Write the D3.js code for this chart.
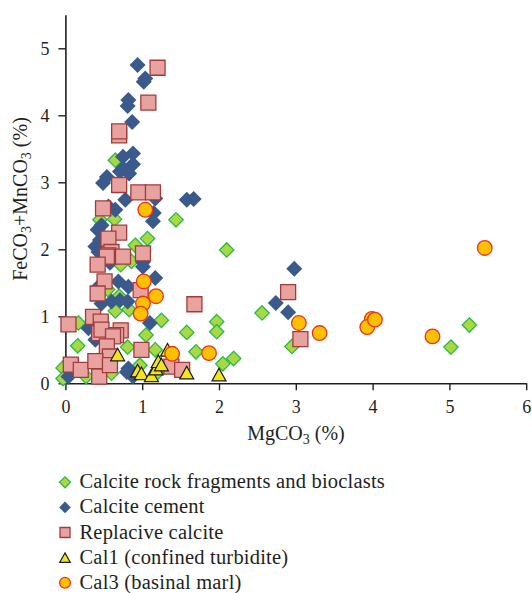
<!DOCTYPE html>
<html>
<head>
<meta charset="utf-8">
<script src="https://cdn.jsdelivr.net/npm/d3@7"></script>
<style>
  html, body { margin: 0; padding: 0; background: #fff; }
  svg { display: block; }
  svg text { font-family: "Liberation Serif", "DejaVu Serif", serif; }
</style>
</head>
<body>
<svg id="chart" width="532" height="593"></svg>
<script>
// MgCO3 vs FeCO3+MnCO3 (%) for calcite types, [MgCO3, FeCO3+MnCO3]
const rockFragments = [
  [0.65,3.33],[0.45,2.44],[0.64,2.45],[1.44,2.44],[1.07,2.16],[0.91,2.06],[0.86,1.82],
  [0.72,1.77],[2.10,1.99],[0.65,1.08],[0.83,1.10],[1.25,0.94],[0.17,0.90],[1.05,0.72],
  [1.58,0.76],[1.97,0.92],[1.97,0.77],[0.16,0.56],[1.17,0.50],[0.81,0.54],[1.70,0.47],
  [2.05,0.29],[2.19,0.37],[-0.03,0.23],[-0.03,0.07],[0.27,0.10],[0.60,0.15],[0.97,0.27],
  [1.19,0.15],[2.56,1.05],[2.95,0.55],[5.02,0.54],[5.26,0.87],[0.55,1.40],[0.70,1.30]
];
const cement = [
  [0.94,4.75],[1.04,4.55],[1.02,4.50],[0.82,4.23],[0.81,4.14],[0.87,3.90],[0.88,3.43],
  [0.75,3.38],[0.88,3.27],[0.75,3.21],[0.83,3.13],[0.71,3.16],[0.54,3.08],[0.49,2.99],
  [0.78,2.74],[0.65,2.59],[0.56,2.64],[1.17,2.76],[1.15,2.54],[1.14,2.42],[0.47,2.36],
  [0.42,2.29],[0.45,2.14],[0.39,2.04],[0.43,1.96],[1.01,1.81],[1.01,1.74],[0.69,1.52],
  [0.82,1.44],[1.17,1.57],[0.43,1.44],[0.47,1.19],[0.60,1.22],[0.71,1.24],[0.81,1.22],
  [1.10,0.90],[0.30,0.82],[0.39,0.65],[0.82,0.22],[0.80,0.17],[0.88,0.10],[0.04,0.10],
  [1.58,2.74],[1.67,2.75],[2.98,1.71],[2.74,1.20],[2.90,1.06],[0.58,1.80],[0.60,2.00]
];
const replacive = [
  [1.20,4.71],[1.08,4.19],[0.70,3.70],[0.70,3.76],[0.70,2.96],[0.95,2.85],[1.14,2.85],
  [0.49,2.61],[0.70,2.25],[0.56,2.16],[0.60,1.96],[0.56,1.91],[0.75,1.89],[0.54,1.89],
  [0.42,1.77],[0.51,1.52],[0.42,1.34],[1.01,1.94],[0.98,1.39],[1.68,1.18],[0.04,0.88],
  [0.36,0.99],[0.46,0.92],[0.44,0.75],[0.47,0.80],[0.72,0.79],[0.66,0.72],[0.62,0.70],
  [0.99,0.50],[0.54,0.55],[0.58,0.40],[0.07,0.28],[0.20,0.20],[0.39,0.33],[0.44,0.10],
  [0.58,0.27],[1.38,0.25],[1.52,0.20],[2.90,1.36],[3.06,0.66]
];
const cal1 = [
  [0.68,0.43],[0.94,0.19],[0.99,0.15],[1.12,0.12],[1.18,0.22],[1.21,0.33],
  [1.25,0.28],[1.33,0.50],[1.58,0.16],[2.00,0.13]
];
const cal3 = [
  [1.04,2.59],[1.02,1.52],[1.18,1.30],[1.01,1.19],[0.98,1.04],[1.39,0.44],[1.87,0.45],
  [3.04,0.90],[3.31,0.75],[3.99,0.96],[3.93,0.84],[4.03,0.95],[4.78,0.70],[5.46,2.02]
];

const xTicks = [0, 1, 2, 3, 4, 5, 6];
const yTicks = [0, 1, 2, 3, 4, 5];
const legendLabels = [
  "Calcite rock fragments and bioclasts",
  "Calcite cement",
  "Replacive calcite",
  "Cal1 (confined turbidite)",
  "Cal3 (basinal marl)"
];

const svg = d3.select("#chart");
const x = d3.scaleLinear().domain([0, 6]).range([65.4, 526.2]);
const y = d3.scaleLinear().domain([0, 5.5]).range([383.3, 14.8]);

// marker shapes, sized in pixels
const shapes = {
  diamond: h => `M0,${-h}L${h},0L0,${h}L${-h},0Z`,
  square: s => `M${-s/2},${-s/2}h${s}v${s}h${-s}Z`,
  triangle: w => { const h = w * 0.9; return `M0,${-h/2}L${w/2},${h/2}L${-w/2},${h/2}Z`; },
  circle: r => `M${r},0A${r},${r} 0 1,1 ${-r},0A${r},${r} 0 1,1 ${r},0Z`
};

const series = [
  { data: rockFragments, shape: "diamond", size: 7.2, legendSize: 5.5, fill: "#a8d843", stroke: "#2db94a", sw: 1.3 },
  { data: cement,        shape: "diamond", size: 8.0, legendSize: 5.8, fill: "#3a5a8c", stroke: "none",    sw: 0 },
  { data: replacive,     shape: "square",  size: 15,  legendSize: 10,  fill: "#e8a3a1", stroke: "#9e3d3b", sw: 1.3 },
  { data: cal1,          shape: "triangle",size: 14,  legendSize: 10.5,fill: "#f5e31c", stroke: "#1a1a1a", sw: 1.2 },
  { data: cal3,          shape: "circle",  size: 7.3, legendSize: 5.4, fill: "#ffc000", stroke: "#e8341c", sw: 1.3 }
];

// axes
const axisColor = "#231f20";
const gx = svg.append("g").attr("transform", `translate(0,${y(0)})`)
  .call(d3.axisBottom(x).tickValues(xTicks).tickFormat(d3.format("d")).tickSize(7).tickPadding(10).tickSizeOuter(0));
const gy = svg.append("g").attr("transform", `translate(${x(0)},0)`)
  .call(d3.axisLeft(y).tickValues(yTicks).tickFormat(d3.format("d")).tickSize(7).tickPadding(9).tickSizeOuter(0));
[gx, gy].forEach(g => {
  g.attr("font-family", null);
  g.select(".domain").attr("stroke", axisColor).attr("stroke-width", 1.6);
  g.selectAll(".tick line").attr("stroke", axisColor).attr("stroke-width", 1.4);
  g.selectAll(".tick text").attr("fill", "#231f20").attr("font-size", 18)
    .style("font-family", "'Liberation Serif', serif");
});

// points
series.forEach(s => {
  svg.append("g").selectAll("path").data(s.data).join("path")
    .attr("d", shapes[s.shape](s.size))
    .attr("transform", d => `translate(${x(d[0])},${y(d[1])})`)
    .attr("fill", s.fill)
    .attr("stroke", s.stroke)
    .attr("stroke-width", s.sw)
    .attr("stroke-linejoin", "miter");
});

// axis titles with subscripts
const xt = svg.append("text").attr("x", 296).attr("y", 440).attr("text-anchor", "middle")
  .attr("font-size", 20).attr("fill", "#231f20");
xt.append("tspan").text("MgCO");
xt.append("tspan").attr("font-size", 14).attr("dy", 4).text("3");
xt.append("tspan").attr("dy", -4).text(" (%)");

const yt = svg.append("text").attr("transform", "translate(27,199) rotate(-90)")
  .attr("text-anchor", "middle").attr("font-size", 20).attr("fill", "#231f20");
yt.append("tspan").text("FeCO");
yt.append("tspan").attr("font-size", 14).attr("dy", 4).text("3");
yt.append("tspan").attr("dy", -4).text("+MnCO");
yt.append("tspan").attr("font-size", 14).attr("dy", 4).text("3");
yt.append("tspan").attr("dy", -4).text(" (%)");

// legend
const legend = svg.append("g");
legendLabels.forEach((label, i) => {
  const s = series[i];
  const cy = 482.3 + i * 25.1;
  legend.append("path")
    .attr("d", shapes[s.shape](s.legendSize))
    .attr("transform", `translate(65,${cy})`)
    .attr("fill", s.fill)
    .attr("stroke", s.stroke)
    .attr("stroke-width", s.sw);
  legend.append("text").attr("x", 79.5).attr("y", cy + 6)
    .attr("font-size", 20.5).attr("letter-spacing", 0.2)
    .attr("fill", "#231f20").text(label);
});
</script>
</body>
</html>
